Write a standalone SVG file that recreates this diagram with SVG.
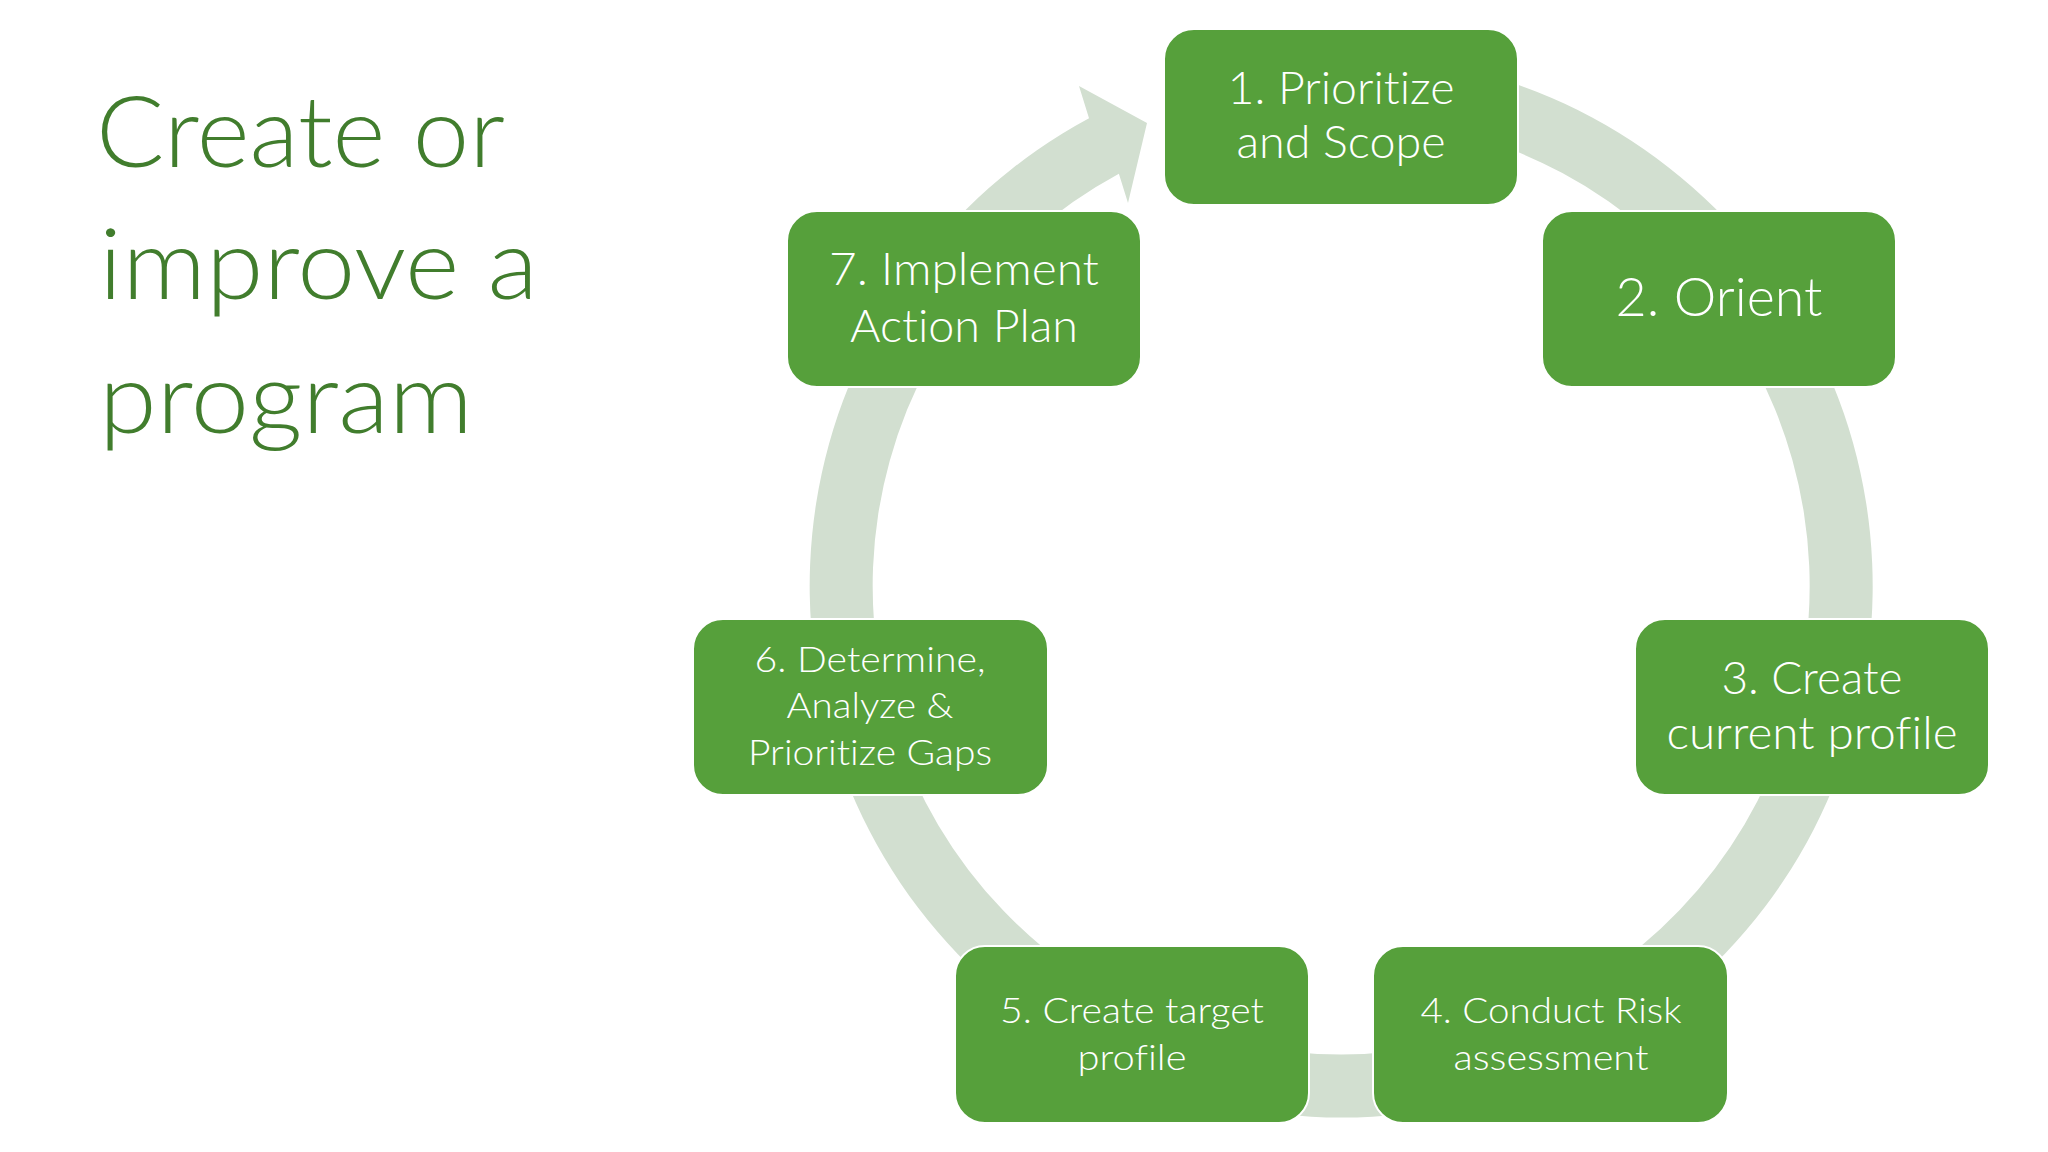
<svg xmlns="http://www.w3.org/2000/svg" width="2048" height="1152" viewBox="0 0 2048 1152">
<style>
.box{fill:#56a03b;stroke:#ffffff;stroke-width:2}
.t{font-family:Lato,"Open Sans","Liberation Sans",sans-serif;font-weight:300;fill:#ffffff;text-anchor:middle;font-variant-ligatures:none}
.title{font-family:Lato,"Open Sans","Liberation Sans",sans-serif;font-weight:300;fill:#417d2d;font-size:99px}
.ring{fill:#d2dfd0}
</style>
<rect width="2048" height="1152" fill="#ffffff"/>
<g id="title">
<text class="title" x="96" y="167" textLength="409" lengthAdjust="spacingAndGlyphs">Create or</text>
<text class="title" x="99" y="299" textLength="439" lengthAdjust="spacingAndGlyphs">improve a</text>
<text class="title" x="99" y="433" textLength="374" lengthAdjust="spacingAndGlyphs">program</text>
</g>
<g id="connectors">
<path class="ring" d="M1478.56,72.61 A531.5,531.5 0 1 1 1089.02,118.17 L1079,86 L1147,123 L1128,203 L1118.89,173.63 A468.5,468.5 0 1 0 1462.26,133.46 Z"/>
</g>
<g id="node1">
<rect class="box" x="1164" y="29" width="354" height="176" rx="30"/>
<text class="t" font-size="45" x="1341" y="104" textLength="227" lengthAdjust="spacingAndGlyphs">1. Prioritize</text>
<text class="t" font-size="45" x="1341" y="158" textLength="209" lengthAdjust="spacingAndGlyphs">and Scope</text>
</g>
<g id="node2">
<rect class="box" x="1542" y="211" width="354" height="176" rx="30"/>
<text class="t" font-size="54" x="1719" y="316" textLength="207" lengthAdjust="spacingAndGlyphs">2. Orient</text>
</g>
<g id="node3">
<rect class="box" x="1635" y="619" width="354" height="176" rx="30"/>
<text class="t" font-size="46" x="1812" y="694" textLength="181" lengthAdjust="spacingAndGlyphs">3. Create</text>
<text class="t" font-size="46" x="1812" y="749" textLength="291" lengthAdjust="spacingAndGlyphs">current profile</text>
</g>
<g id="node4">
<rect class="box" x="1373" y="946" width="355" height="177" rx="30"/>
<text class="t" font-size="36" x="1551" y="1023" textLength="261" lengthAdjust="spacingAndGlyphs">4. Conduct Risk</text>
<text class="t" font-size="36" x="1551" y="1070" textLength="195" lengthAdjust="spacingAndGlyphs">assessment</text>
</g>
<g id="node5">
<rect class="box" x="955" y="946" width="354" height="177" rx="30"/>
<text class="t" font-size="36" x="1132" y="1023" textLength="264" lengthAdjust="spacingAndGlyphs">5. Create target</text>
<text class="t" font-size="36" x="1132" y="1070" textLength="109" lengthAdjust="spacingAndGlyphs">profile</text>
</g>
<g id="node6">
<rect class="box" x="693" y="619" width="355" height="176" rx="30"/>
<text class="t" font-size="36" x="870" y="672" textLength="231" lengthAdjust="spacingAndGlyphs">6. Determine,</text>
<text class="t" font-size="36" x="870" y="718" textLength="167" lengthAdjust="spacingAndGlyphs">Analyze &amp;</text>
<text class="t" font-size="36" x="870" y="765" textLength="244" lengthAdjust="spacingAndGlyphs">Prioritize Gaps</text>
</g>
<g id="node7">
<rect class="box" x="787" y="211" width="354" height="176" rx="30"/>
<text class="t" font-size="45" x="964" y="285" textLength="270" lengthAdjust="spacingAndGlyphs">7. Implement</text>
<text class="t" font-size="45" x="964" y="342" textLength="228" lengthAdjust="spacingAndGlyphs">Action Plan</text>
</g>
</svg>
